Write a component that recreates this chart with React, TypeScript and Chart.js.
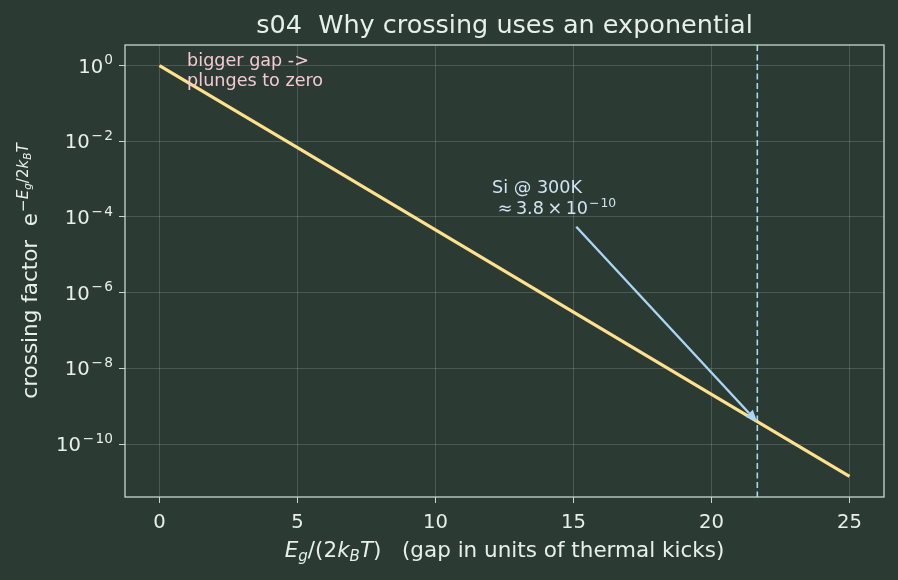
import { useEffect, useRef } from 'react';
import { Chart, registerables } from 'chart.js';

Chart.register(...registerables);

// Gap measured in units of 2k_BT, and the Boltzmann-like crossing factor exp(-x)
const gapRatio = [0, 5, 10, 15, 20, 25];
const crossingFactor = [1, 6.74e-3, 4.54e-5, 3.06e-7, 2.06e-9, 1.39e-11];

// Axis ticks
const xTickValues = [0, 5, 10, 15, 20, 25];
const xTickLabels = ['0', '5', '10', '15', '20', '25'];
const yTickValues = [1, 1e-2, 1e-4, 1e-6, 1e-8, 1e-10];
const yTickExponents = ['0', '−2', '−4', '−6', '−8', '−10'];

// Axis limits
const xRange = [-1.25, 26.25];
const yRange = [Math.pow(10, -11.4), Math.pow(10, 0.543)];

// Silicon at room temperature
const siGapRatio = 21.66;
const siFactor = 3.8e-10;
const siLabelAt = [12.05, 4.3e-4];
const siArrowFrom = [15.1, 5.5e-5];

// Side note
const noteAt = [1.0, 1];
const noteLines = ['bigger gap ->', 'plunges to zero'];

const FONT = '"DejaVu Sans", "Noto Sans", sans-serif';
const BG = '#2b3a33';
const FRAME = '#c5d9cc';
const TEXT = '#e6efe9';
const LINE = '#ffe08c';
const SI_BLUE = '#a9d6f2';
const SI_TEXT = '#cfe3f1';
const NOTE_PINK = '#f5c8d2';

const TITLE_PX = 25.5;
const LABEL_PX = 21.5;
const TICK_PX = 19.6;
const NOTE_PX = 17.6;

type Seg = { t: string; it?: boolean; sc?: number; dy?: number; gap?: number };

function segFont(s: Seg, size: number) {
  return `${s.it ? 'italic ' : ''}${size * (s.sc ?? 1)}px ${FONT}`;
}

function richWidth(ctx: CanvasRenderingContext2D, segs: Seg[], size: number) {
  let w = 0;
  for (const s of segs) {
    ctx.font = segFont(s, size);
    w += ctx.measureText(s.t).width + (s.gap ?? 0);
  }
  return w;
}

function drawRich(
  ctx: CanvasRenderingContext2D,
  segs: Seg[],
  x: number,
  y: number,
  size: number,
  align: 'left' | 'center' | 'right',
  color: string
) {
  const w = richWidth(ctx, segs, size);
  let cx = align === 'left' ? x : align === 'center' ? x - w / 2 : x - w;
  ctx.fillStyle = color;
  ctx.textAlign = 'left';
  ctx.textBaseline = 'alphabetic';
  for (const s of segs) {
    ctx.font = segFont(s, size);
    cx += s.gap ?? 0;
    ctx.fillText(s.t, cx, y - (s.dy ?? 0) * size);
    cx += ctx.measureText(s.t).width;
  }
}

const SUP = 0.42;

// "10" with a raised exponent; a leading minus gets a little room of its own
function powerSegs(exp: string): Seg[] {
  if (exp.startsWith('−')) {
    return [
      { t: '10' },
      { t: '−', sc: 0.7, dy: SUP, gap: 1.5 },
      { t: exp.slice(1), sc: 0.7, dy: SUP, gap: 1.5 },
    ];
  }
  return [{ t: '10' }, { t: exp, sc: 0.7, dy: SUP, gap: 1 }];
}

const yLabelSegs: Seg[] = [
  { t: 'crossing factor  e' },
  { t: '−', sc: 0.7, dy: SUP, gap: 1 },
  { t: 'E', it: true, sc: 0.7, dy: SUP },
  { t: 'g', it: true, sc: 0.49, dy: 0.3 },
  { t: '/2', sc: 0.7, dy: SUP },
  { t: 'k', it: true, sc: 0.7, dy: SUP },
  { t: 'B', it: true, sc: 0.49, dy: 0.3 },
  { t: 'T', it: true, sc: 0.7, dy: SUP },
];

const xLabelSegs: Seg[] = [
  { t: 'E', it: true },
  { t: 'g', it: true, sc: 0.7, dy: -0.2 },
  { t: '/(2' },
  { t: 'k', it: true },
  { t: 'B', it: true, sc: 0.7, dy: -0.2 },
  { t: 'T', it: true },
  { t: ')   (gap in units of thermal kicks)' },
];

const siValueSegs: Seg[] = [
  { t: ' ≈\u20093.8\u2009×\u200910' },
  { t: '−', sc: 0.7, dy: SUP, gap: 1 },
  { t: '10', sc: 0.7, dy: SUP, gap: 1 },
];

const decorations = {
  id: 'decorations',
  beforeDraw(chart: Chart) {
    const ctx = chart.ctx;
    ctx.save();
    ctx.fillStyle = BG;
    ctx.fillRect(0, 0, chart.width, chart.height);
    ctx.restore();
  },
  beforeDatasetsDraw(chart: Chart) {
    const ctx = chart.ctx;
    const { top, bottom } = chart.chartArea;
    const x = chart.scales.x.getPixelForValue(siGapRatio);
    ctx.save();
    ctx.strokeStyle = SI_BLUE;
    ctx.lineWidth = 1.6;
    ctx.setLineDash([6, 3.5]);
    ctx.beginPath();
    ctx.moveTo(x, top);
    ctx.lineTo(x, bottom);
    ctx.stroke();
    ctx.restore();
  },
  afterDraw(chart: Chart) {
    const ctx = chart.ctx;
    const xs = chart.scales.x;
    const ys = chart.scales.y;
    const { left, right, top, bottom } = chart.chartArea;
    ctx.save();

    // frame
    ctx.strokeStyle = FRAME;
    ctx.lineWidth = 1.3;
    ctx.strokeRect(left, top, right - left, bottom - top);

    // x tick labels
    ctx.font = `${TICK_PX}px ${FONT}`;
    ctx.fillStyle = TEXT;
    ctx.textAlign = 'center';
    ctx.textBaseline = 'alphabetic';
    xTickValues.forEach((v, i) => {
      ctx.fillText(xTickLabels[i], xs.getPixelForValue(v), bottom + 31);
    });

    // y tick labels
    yTickValues.forEach((v, i) => {
      const py = ys.getPixelForValue(v);
      drawRich(ctx, powerSegs(yTickExponents[i]), left - 12, py + 7, TICK_PX, 'right', TEXT);
    });

    // axis labels
    drawRich(ctx, xLabelSegs, (left + right) / 2, 557, LABEL_PX, 'center', TEXT);
    ctx.save();
    ctx.translate(37, (top + bottom) / 2);
    ctx.rotate(-Math.PI / 2);
    drawRich(ctx, yLabelSegs, 0, 0, LABEL_PX, 'center', TEXT);
    ctx.restore();

    // title
    ctx.font = `${TITLE_PX}px ${FONT}`;
    ctx.fillStyle = TEXT;
    ctx.textAlign = 'center';
    ctx.fillText('s04  Why crossing uses an exponential', (left + right) / 2, 33);

    // side note
    ctx.font = `${NOTE_PX}px ${FONT}`;
    ctx.fillStyle = NOTE_PINK;
    ctx.textAlign = 'left';
    const nx = xs.getPixelForValue(noteAt[0]);
    const ny = ys.getPixelForValue(noteAt[1]);
    noteLines.forEach((ln, i) => ctx.fillText(ln, nx, ny + i * 20.5));

    // silicon annotation
    const sx = xs.getPixelForValue(siLabelAt[0]);
    const sy = ys.getPixelForValue(siLabelAt[1]);
    ctx.font = `${NOTE_PX}px ${FONT}`;
    ctx.fillStyle = SI_TEXT;
    ctx.fillText('Si @ 300K', sx, sy);
    drawRich(ctx, siValueSegs, sx, sy + 21, NOTE_PX, 'left', SI_TEXT);

    // arrow
    const ax0 = xs.getPixelForValue(siArrowFrom[0]);
    const ay0 = ys.getPixelForValue(siArrowFrom[1]);
    const ax1 = xs.getPixelForValue(siGapRatio);
    const ay1 = ys.getPixelForValue(siFactor);
    const ang = Math.atan2(ay1 - ay0, ax1 - ax0);
    const head = 12;
    const hw = 5;
    const bx = ax1 - head * Math.cos(ang);
    const by = ay1 - head * Math.sin(ang);
    ctx.strokeStyle = SI_BLUE;
    ctx.fillStyle = SI_BLUE;
    ctx.lineWidth = 2.4;
    ctx.beginPath();
    ctx.moveTo(ax0, ay0);
    ctx.lineTo(bx, by);
    ctx.stroke();
    ctx.beginPath();
    ctx.moveTo(ax1, ay1);
    ctx.lineTo(bx + hw * Math.sin(ang), by - hw * Math.cos(ang));
    ctx.lineTo(bx - hw * Math.sin(ang), by + hw * Math.cos(ang));
    ctx.closePath();
    ctx.fill();

    ctx.restore();
  },
};

export default function App() {
  const ref = useRef<HTMLCanvasElement | null>(null);

  useEffect(() => {
    document.body.style.margin = '0';
    document.body.style.background = BG;
    const canvas = ref.current;
    if (!canvas) return;
    const chart = new Chart(canvas, {
      type: 'line',
      data: {
        datasets: [
          {
            data: gapRatio.map((x, i) => ({ x, y: crossingFactor[i] })),
            borderColor: LINE,
            borderWidth: 3.2,
            pointRadius: 0,
            tension: 0,
            fill: false,
          },
        ],
      },
      options: {
        animation: false,
        responsive: false,
        devicePixelRatio: 1,
        layout: { padding: { left: 0, right: 14, top: 45, bottom: 0 } },
        plugins: {
          legend: { display: false },
          title: { display: false },
          tooltip: { enabled: false },
        },
        scales: {
          x: {
            type: 'linear',
            min: xRange[0],
            max: xRange[1],
            afterBuildTicks: (s: any) => {
              s.ticks = xTickValues.map((v) => ({ value: v }));
            },
            afterFit: (s: any) => {
              s.height = 83;
            },
            ticks: { display: false },
            border: { display: false },
            grid: {
              color: 'rgba(200, 222, 210, 0.2)',
              lineWidth: 1,
              drawTicks: true,
              tickLength: 6,
              tickColor: FRAME,
            },
          },
          y: {
            type: 'logarithmic',
            min: yRange[0],
            max: yRange[1],
            afterBuildTicks: (s: any) => {
              s.ticks = yTickValues.map((v) => ({ value: v }));
            },
            afterFit: (s: any) => {
              s.width = 125;
            },
            ticks: { display: false },
            border: { display: false },
            grid: {
              color: 'rgba(200, 222, 210, 0.2)',
              lineWidth: 1,
              drawTicks: true,
              tickLength: 6,
              tickColor: FRAME,
            },
          },
        },
      },
      plugins: [decorations],
    });
    return () => chart.destroy();
  }, []);

  return <canvas ref={ref} width={898} height={580} style={{ display: 'block' }} />;
}
